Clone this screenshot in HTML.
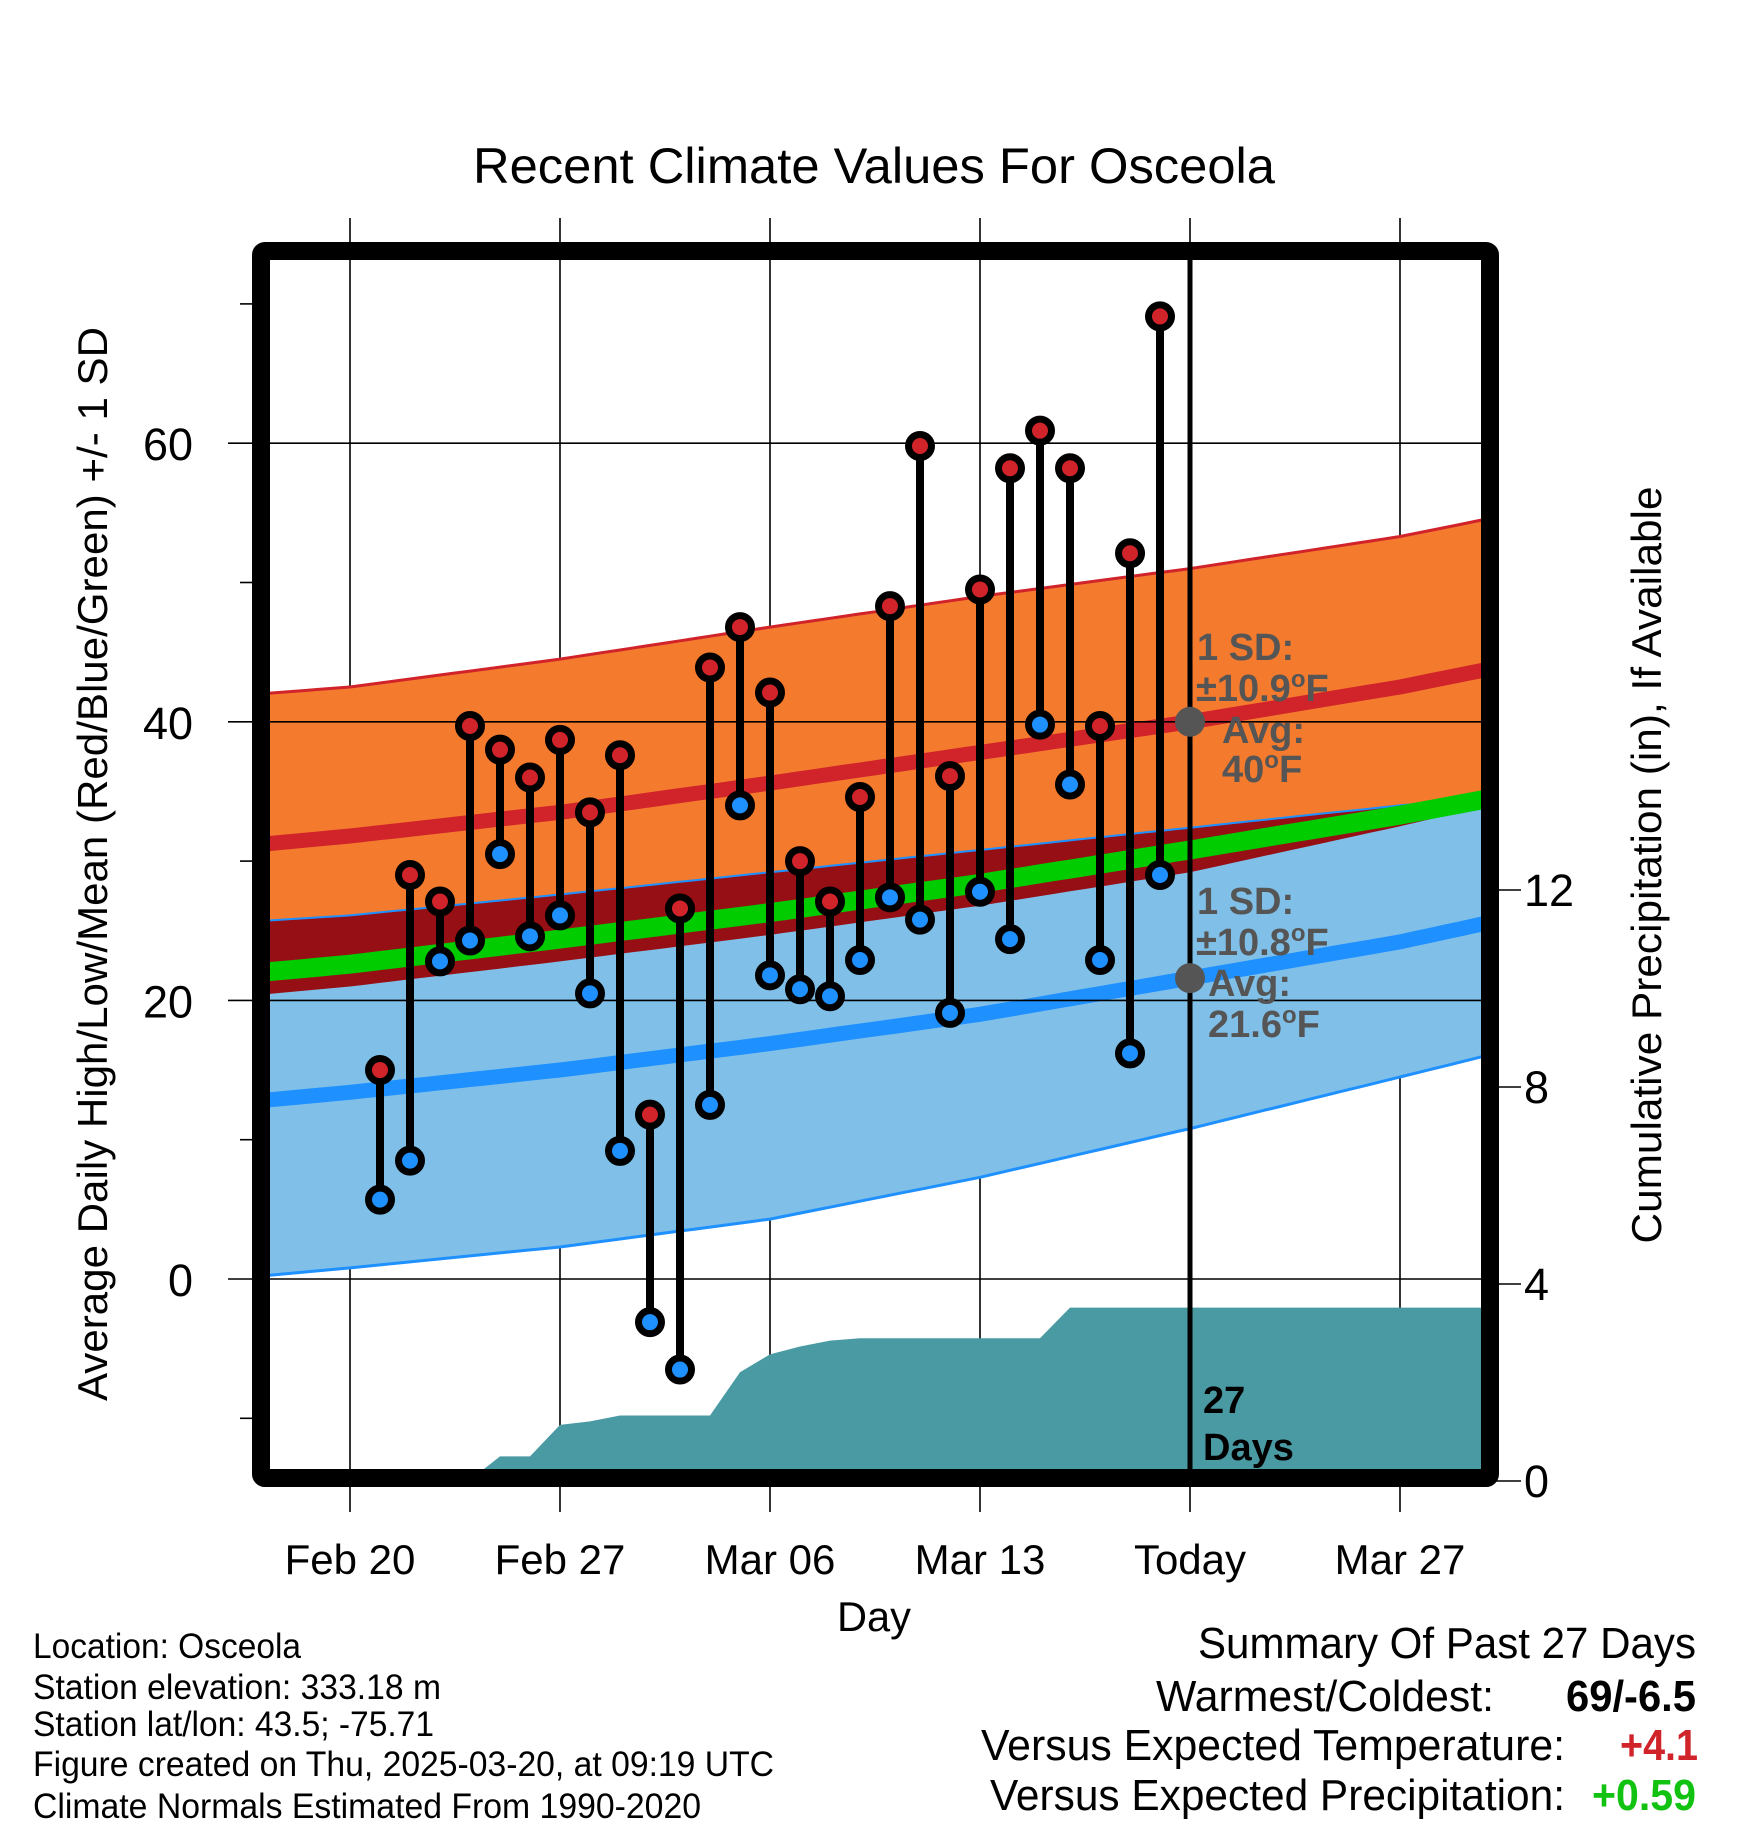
<!DOCTYPE html>
<html><head><meta charset="utf-8">
<style>
html,body{margin:0;padding:0;background:#fff;}
svg{display:block;font-family:"Liberation Sans",Arial,sans-serif;}
</style></head>
<body>
<svg id="chart" width="1748" height="1828" viewBox="0 0 1748 1828" xmlns="http://www.w3.org/2000/svg">
<defs><clipPath id="plotclip"><rect x="270" y="259" width="1211" height="1211"/></clipPath></defs>
<rect width="1748" height="1828" fill="#fff"/>
<g id="gridlayer"></g>
<g id="plot" clip-path="url(#plotclip)"></g>
<g id="over"></g>
<text x="473" y="183" font-size="50" textLength="802" lengthAdjust="spacingAndGlyphs">Recent Climate Values For Osceola</text>
<text x="837" y="1631" font-size="42" textLength="74" lengthAdjust="spacingAndGlyphs">Day</text>
<text transform="translate(107,864) rotate(-90)" text-anchor="middle" font-size="42" textLength="1074" lengthAdjust="spacingAndGlyphs">Average Daily High/Low/Mean (Red/Blue/Green) +/- 1 SD</text>
<text transform="translate(1661,865) rotate(-90)" text-anchor="middle" font-size="42" textLength="757" lengthAdjust="spacingAndGlyphs">Cumulative Precipitation (in), If Available</text>
<g font-size="35">
<text x="33" y="1658" textLength="268" lengthAdjust="spacingAndGlyphs">Location: Osceola</text>
<text x="33" y="1699" textLength="408" lengthAdjust="spacingAndGlyphs">Station elevation: 333.18 m</text>
<text x="33" y="1736" textLength="401" lengthAdjust="spacingAndGlyphs">Station lat/lon: 43.5; -75.71</text>
<text x="33" y="1776" textLength="741" lengthAdjust="spacingAndGlyphs">Figure created on Thu, 2025-03-20, at 09:19 UTC</text>
<text x="33" y="1818" textLength="668" lengthAdjust="spacingAndGlyphs">Climate Normals Estimated From 1990-2020</text>
</g>
<g font-size="44">
<text x="1198" y="1658" textLength="498" lengthAdjust="spacingAndGlyphs">Summary Of Past 27 Days</text>
<text x="1156" y="1711" textLength="338" lengthAdjust="spacingAndGlyphs">Warmest/Coldest:</text>
<text x="1566" y="1711" font-weight="bold" textLength="130" lengthAdjust="spacingAndGlyphs">69/-6.5</text>
<text x="981" y="1760" textLength="584" lengthAdjust="spacingAndGlyphs">Versus Expected Temperature:</text>
<text x="1620" y="1760" font-weight="bold" fill="#d0232a" textLength="78" lengthAdjust="spacingAndGlyphs">+4.1</text>
<text x="990" y="1810" textLength="575" lengthAdjust="spacingAndGlyphs">Versus Expected Precipitation:</text>
<text x="1592" y="1810" font-weight="bold" fill="#11c211" textLength="104" lengthAdjust="spacingAndGlyphs">+0.59</text>
</g>
</svg>
<script>
// ---- data ----
const obsDays = [1,2,3,4,5,6,7,8,9,10,11,12,13,14,15,16,17,18,19,20,21,22,23,24,25,26,27];
const highs = [15.0,29.0,27.1,39.7,38.0,36.0,38.7,33.5,37.6,11.8,26.6,43.9,46.8,42.1,30.0,27.1,34.6,48.3,59.8,36.1,49.5,58.2,60.9,58.2,39.7,52.1,69.1];
const lows = [5.7,8.5,22.8,24.3,30.5,24.6,26.1,20.5,9.2,-3.1,-6.5,12.5,34.0,21.8,20.8,20.3,22.9,27.4,25.8,19.1,27.8,24.4,39.8,35.5,22.9,16.2,29.0];
const normDays = [-3,0,7,14,21,28,35,38];
const highPlusSD = [42.0,42.5,44.5,46.8,49.0,51.0,53.3,54.6];
const highMean = [31.2,31.8,33.5,35.6,37.8,40.0,42.5,43.8];
const highMinusSD = [20.4,21.0,22.8,24.7,26.8,29.2,32.5,34.0];
const lowPlusSD = [25.7,26.1,27.6,29.2,30.8,32.4,34.0,34.6];
const meanTemp = [22.0,22.6,24.4,26.3,28.4,30.8,33.3,34.5];
const lowMean = [12.8,13.4,15.0,16.9,19.0,21.6,24.2,25.6];
const lowMinusSD = [0.2,0.8,2.3,4.3,7.3,10.8,14.5,16.1];
const precipDays = [-3,3,4,5,6,7,8,9,12,13,14,15,16,17,23,24,38];
const precipCum = [0,0,0.02,0.5,0.5,1.14,1.21,1.33,1.33,2.21,2.57,2.73,2.85,2.9,2.9,3.52,3.52];
const xTickDays = [0,7,14,21,28,35];
const xTickLabels = ["Feb 20","Feb 27","Mar 06","Mar 13","Today","Mar 27"];
const yTicks = [0,20,40,60];
const yMinor = [-10,10,30,50,70];
const y2Ticks = [0,4,8,12];
const todayDay = 28;
const todayHighAvg = 40, todayLowAvg = 21.6;

// ---- axes ----
const X = d => 350 + 30*d;
const Y = v => 1279 - 13.93*v;
const P = p => 1481 - 49.25*p;
const NS = "http://www.w3.org/2000/svg";
function mk(parent, tag, attrs){const e=document.createElementNS(NS,tag);for(const k in attrs)e.setAttribute(k,attrs[k]);parent.appendChild(e);return e;}
const grid = document.getElementById('gridlayer');
const plot = document.getElementById('plot');
const over = document.getElementById('over');
function interp(arr, d){
  for(let i=0;i<normDays.length-1;i++){
    if(d<=normDays[i+1]){const t=(d-normDays[i])/(normDays[i+1]-normDays[i]);return arr[i]+t*(arr[i+1]-arr[i]);}
  }
  return arr[arr.length-1];
}
const samples=[];for(let d=-3;d<=38;d+=0.5)samples.push(d);
function linePts(arr){return samples.map(d=>X(d).toFixed(1)+","+Y(interp(arr,d)).toFixed(1));}
function bandPath(top,bot){const a=linePts(top);const b=linePts(bot).reverse();return "M"+a.join("L")+"L"+b.join("L")+"Z";}

// bands
let e;
e=mk(plot,'path',{d:bandPath(highPlusSD,highMinusSD),fill:'#f47a2e'});


e=mk(plot,'path',{d:bandPath(lowPlusSD,lowMinusSD),fill:'#80c0e8'});


const ovTop=[],ovBot=[];
samples.forEach(d=>{const a=interp(lowPlusSD,d),b=interp(highMinusSD,d);ovTop.push(X(d).toFixed(1)+","+Y(Math.max(a,b)).toFixed(1));ovBot.push(X(d).toFixed(1)+","+Y(b).toFixed(1));});
e=mk(plot,'path',{d:"M"+ovTop.join("L")+"L"+ovBot.reverse().join("L")+"Z",fill:'#960f15'});


e=mk(plot,'polyline',{points:linePts(highPlusSD).join(" "),fill:'none',stroke:'#d0232a','stroke-width':3});


e=mk(plot,'polyline',{points:linePts(lowPlusSD).join(" "),fill:'none',stroke:'#1e90ff','stroke-width':2});


e=mk(plot,'polyline',{points:linePts(lowMinusSD).join(" "),fill:'none',stroke:'#1e90ff','stroke-width':3});


e=mk(plot,'polyline',{points:linePts(meanTemp).join(" "),fill:'none',stroke:'#00cc00','stroke-width':19});


e=mk(plot,'polyline',{points:linePts(highMean).join(" "),fill:'none',stroke:'#d0232a','stroke-width':15});


e=mk(plot,'polyline',{points:linePts(lowMean).join(" "),fill:'none',stroke:'#1e90ff','stroke-width':15});



// precip area
let pd="M"+X(precipDays[0])+","+P(0);
precipDays.forEach((d,i)=>{pd+="L"+X(d).toFixed(1)+","+P(precipCum[i]).toFixed(1);});
pd+="L"+X(precipDays[precipDays.length-1])+","+P(0)+"Z";
e=mk(plot,'path',{d:pd,fill:'#4a9aa3'});



// grid lines
xTickDays.forEach((d,i)=>{
  const g=mk(grid,'line',{x1:X(d),x2:X(d),y1:218,y2:1512,stroke:'#000','stroke-width':1.6});
  
  
  const t=mk(over,'text',{x:X(d),y:1574,'font-size':42,'text-anchor':'middle'});
  t.textContent=xTickLabels[i];
  
  
});
yTicks.forEach(v=>{
  const l=mk(over,'line',{x1:228,x2:1481,y1:Y(v),y2:Y(v),stroke:'#000','stroke-width':1.6});
  
  
  const t=mk(over,'text',{x:193,y:Y(v)+17,'font-size':45,'text-anchor':'end'});
  t.textContent=v;
  
  
});
yMinor.forEach(v=>{
  const l=mk(over,'line',{x1:240,x2:254,y1:Y(v),y2:Y(v),stroke:'#000','stroke-width':1.6});
  
  
});
y2Ticks.forEach(p=>{
  const l=mk(over,'line',{x1:1490,x2:1521,y1:P(p),y2:P(p),stroke:'#000','stroke-width':1.6});
  
  
  const t=mk(over,'text',{x:1524,y:P(p)+16,'font-size':45});
  t.textContent=p;
  
  
});

// today line
e=mk(over,'line',{x1:X(todayDay),x2:X(todayDay),y1:259,y2:1470,stroke:'#000','stroke-width':5});



// observations
obsDays.forEach((d,i)=>{
  const s=mk(over,'line',{x1:X(d),x2:X(d),y1:Y(highs[i]),y2:Y(lows[i]),stroke:'#000','stroke-width':8});
  
  
});
obsDays.forEach((d,i)=>{
  const h=mk(over,'circle',{cx:X(d),cy:Y(highs[i]),r:11.5,fill:'#d0232a',stroke:'#000','stroke-width':7});
  
  
  const l=mk(over,'circle',{cx:X(d),cy:Y(lows[i]),r:11.5,fill:'#1e90ff',stroke:'#000','stroke-width':7});
  
  
});

// today avg markers
e=mk(over,'circle',{cx:X(todayDay),cy:Y(todayHighAvg),r:15,fill:'#555'});


e=mk(over,'circle',{cx:X(todayDay),cy:Y(todayLowAvg),r:15,fill:'#555'});



// frame
e=mk(over,'rect',{x:261,y:251,width:1229,height:1227,fill:'none',stroke:'#000','stroke-width':18,rx:4});



// annotations
function ann(x,y,html,name){
  const t=mk(over,'text',{x:x,y:y,'font-size':38,'font-weight':'bold',fill:'#555'});
  t.innerHTML=html;
  
  
}
ann(1197,660,'1 SD:','high-sd-label');
ann(1196,701,'±10.9<tspan font-size="24" dy="-14">o</tspan><tspan dy="14">F</tspan>','high-sd-value');
ann(1222,743,'Avg:','high-avg-label');
ann(1222,782,'40<tspan font-size="24" dy="-14">o</tspan><tspan dy="14">F</tspan>','high-avg-value');
ann(1197,914,'1 SD:','low-sd-label');
ann(1196,955,'±10.8<tspan font-size="24" dy="-14">o</tspan><tspan dy="14">F</tspan>','low-sd-value');
ann(1208,996,'Avg:','low-avg-label');
ann(1208,1037,'21.6<tspan font-size="24" dy="-14">o</tspan><tspan dy="14">F</tspan>','low-avg-value');
e=mk(over,'text',{x:1203,y:1413,'font-size':38,'font-weight':'bold'});
e.textContent='27';


e=mk(over,'text',{x:1203,y:1460,'font-size':38,'font-weight':'bold'});
e.textContent='Days';


</script>
</body></html>
